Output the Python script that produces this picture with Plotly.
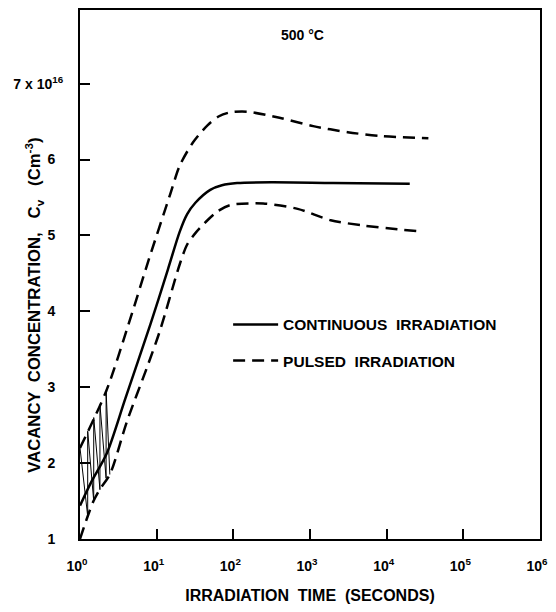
import plotly.graph_objects as go

# --- data (time in seconds, concentration in units of 1e16 cm^-3)
cont_t = [1.0, 1.4, 2.24, 3.9, 8.3, 14, 20, 25, 32, 50, 71, 112, 316, 2000, 20000]
cont_c = [1.44, 1.75, 2.13, 2.85, 3.83, 4.55, 5.05, 5.28, 5.43, 5.6, 5.66, 5.69, 5.70, 5.69, 5.68]

pulse_hi_t = [1.0, 2.2, 4.3, 8.0, 15, 20, 30, 46, 65, 90, 150, 400, 1100, 3100, 8300, 35000]
pulse_hi_c = [2.2, 2.95, 3.83, 4.7, 5.54, 5.92, 6.23, 6.45, 6.57, 6.62, 6.63, 6.55, 6.44, 6.36, 6.31, 6.28]

pulse_lo_t = [1.0, 1.26, 1.5, 1.8, 2.45, 4.1, 7.6, 11, 20, 25, 32, 46, 63, 91, 245, 690, 1860, 5000, 13800, 29000]
pulse_lo_c = [1.0, 1.3, 1.5, 1.65, 1.85, 2.55, 3.28, 3.74, 4.62, 4.88, 5.03, 5.2, 5.32, 5.4, 5.42, 5.35, 5.2, 5.13, 5.08, 5.05]

saw_t = [1.0, 1.26, 1.26, 1.51, 1.51, 1.82, 1.82, 2.19, 2.19, 2.45]
saw_c = [2.2, 1.3, 2.42, 1.5, 2.6, 1.65, 2.77, 1.8, 2.95, 1.85]

x_tickvals = [1, 10, 100, 1000, 10000, 100000, 1000000]
x_ticktext = ["10<sup>0</sup>", "10<sup>1</sup>", "10<sup>2</sup>", "10<sup>3</sup>",
              "10<sup>4</sup>", "10<sup>5</sup>", "10<sup>6</sup>"]
y_tickvals = [1, 2, 3, 4, 5, 6, 7]
y_ticktext = ["1\u00a0\u00a0", "2\u00a0\u00a0", "3\u00a0\u00a0", "4\u00a0\u00a0", "5\u00a0\u00a0",
              "6\u00a0\u00a0", "7 x 10<sup>16</sup>"]

FONT = "Liberation Sans, Arial, sans-serif"

fig = go.Figure()
fig.add_trace(go.Scatter(x=cont_t, y=cont_c, mode="lines", name="CONTINUOUS\u00a0\u00a0IRRADIATION",
                         legendgroup="a",
                         line=dict(color="black", width=2.5, shape="spline", smoothing=0.8)))
fig.add_trace(go.Scatter(x=pulse_hi_t, y=pulse_hi_c, mode="lines", name="PULSED\u00a0\u00a0IRRADIATION",
                         legendgroup="b",
                         line=dict(color="black", width=2.5, dash="12px,7px", shape="spline", smoothing=0.8)))
fig.add_trace(go.Scatter(x=pulse_lo_t, y=pulse_lo_c, mode="lines", showlegend=False,
                         legendgroup="b",
                         line=dict(color="black", width=2.5, dash="12px,7px", shape="spline", smoothing=0.8)))
fig.add_trace(go.Scatter(x=saw_t, y=saw_c, mode="lines", showlegend=False,
                         line=dict(color="black", width=1)))

fig.update_layout(
    width=548, height=596,
    margin=dict(l=72, r=16, t=0, b=53),
    paper_bgcolor="white", plot_bgcolor="white",
    font=dict(family=FONT, size=14, color="black", weight="bold"),
    showlegend=True,
    legend=dict(x=0.322, y=0.437, xanchor="left", yanchor="top",
                bgcolor="rgba(0,0,0,0)", tracegroupgap=13,
                font=dict(size=15.5, family=FONT, weight="bold"), itemwidth=45),
)
fig.update_xaxes(type="log", range=[0, 6], tickvals=x_tickvals, ticktext=x_ticktext,
                 showline=True, linecolor="black", linewidth=2, mirror=True,
                 ticks="inside", ticklen=10, tickwidth=1.5, tickcolor="black",
                 showgrid=False, zeroline=False, ticklabelstandoff=13, ticklabelshift=-3,
                 tickfont=dict(size=14),
                 title=dict(text="IRRADIATION\u00a0\u00a0TIME\u00a0\u00a0(SECONDS)", standoff=19,
                            font=dict(size=16, family=FONT, weight="bold")))
fig.update_yaxes(range=[1, 7.97], tickvals=y_tickvals, ticktext=y_ticktext,
                 showline=True, linecolor="black", linewidth=2, mirror=True,
                 ticks="inside", ticklen=10, tickwidth=1.5, tickcolor="black",
                 showgrid=False, zeroline=False, ticklabelstandoff=12,
                 tickfont=dict(size=14))

fig.add_annotation(text="VACANCY\u00a0\u00a0CONCENTRATION,\u00a0\u00a0\u00a0C<sub>v</sub>\u00a0\u00a0\u00a0(Cm<sup>-3</sup>)",
                   xref="paper", yref="paper", x=-0.1, y=0.441, textangle=-90,
                   showarrow=False, xanchor="center", yanchor="middle",
                   font=dict(size=16.7, family=FONT, weight="bold"))
fig.add_annotation(text="500 \u00b0C", xref="paper", yref="paper", x=0.483, y=0.952,
                   showarrow=False, xanchor="center", yanchor="middle",
                   font=dict(size=14, family=FONT, weight="bold"))

fig.write_html("out.html")
